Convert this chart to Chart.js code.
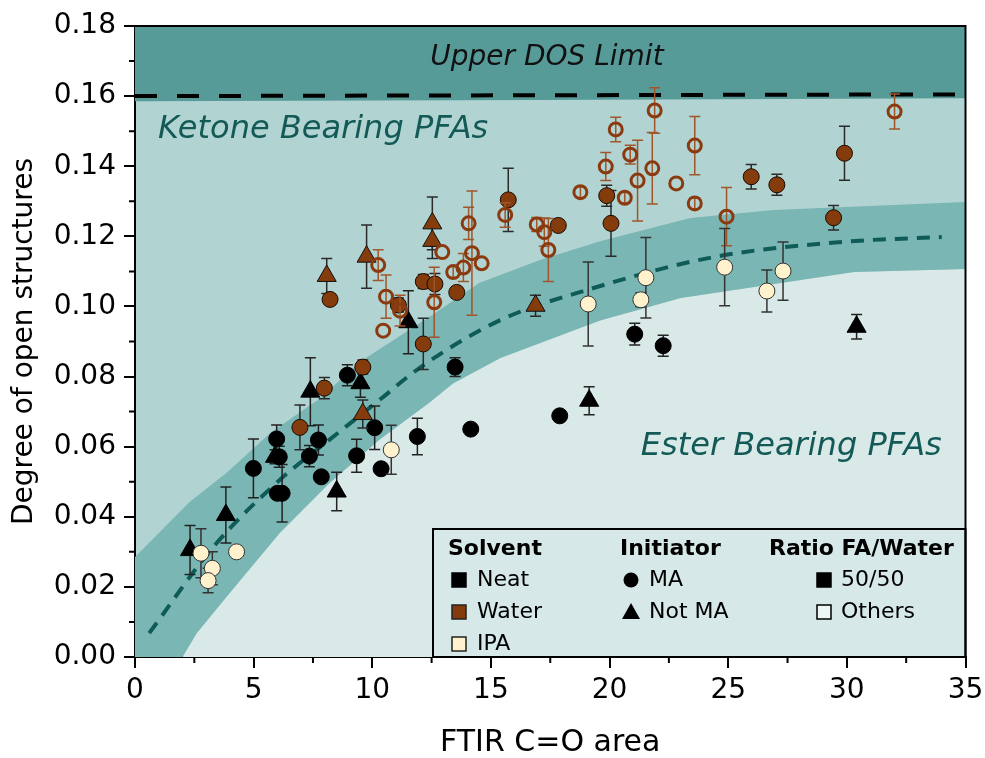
<!DOCTYPE html>
<html lang="en">
<head>
  <meta charset="UTF-8">
  <title>Degree of open structures vs FTIR C=O area</title>
  <script src="https://cdn.jsdelivr.net/npm/chart.js"></script>
  <style>
    body { margin: 0; background: #fff; }
    #wrap { width: 985px; height: 758px; }
  </style>
</head>
<body>
  <div id="wrap"><canvas id="chart" width="985" height="758"></canvas></div>

  <script>
    // axis ticks
    const xTicks = [0, 5, 10, 15, 20, 25, 30, 35];
    const xMinor = [2.5, 7.5, 12.5, 17.5, 22.5, 27.5, 32.5];
    const yTicks = [0, 0.02, 0.04, 0.06, 0.08, 0.10, 0.12, 0.14, 0.16, 0.18];
    const yMinor = [0.01, 0.03, 0.05, 0.07, 0.09, 0.11, 0.13, 0.15, 0.17];

    // shaded regions and curves
    const bandUpperX = [0, 2.3, 3.9, 5.7, 7.7, 9.6, 12.4, 14.5, 17.1, 19.6, 23.4, 26.9, 35];
    const bandUpperY = [0.0285, 0.0442, 0.0528, 0.0639, 0.0733, 0.0847, 0.0970, 0.1067, 0.1133, 0.1186, 0.1252, 0.1275, 0.1298];
    const bandLowerX = [0, 2.0, 2.6, 4.0, 6.1, 8.2, 10.3, 12.4, 13.4, 15.4, 19.6, 23.0, 30.3, 35];
    const bandLowerY = [0, 0, 0.0068, 0.0183, 0.0354, 0.0496, 0.0620, 0.0725, 0.0780, 0.0853, 0.0960, 0.1024, 0.1098, 0.1107];
    const fitX = [0.6, 3.3, 6.1, 8.2, 10.3, 12.0, 15.4, 19.2, 24.4, 30.0, 34.0];
    const fitY = [0.0068, 0.0314, 0.0505, 0.0620, 0.0733, 0.0825, 0.0961, 0.1050, 0.1141, 0.1185, 0.1198];
    const dosEdgeX = [0, 17, 35];
    const dosEdgeY = [0.1585, 0.1589, 0.1594];
    const limitX = [0, 35];
    const limitY = [0.1600, 0.1605];

    // Neat, MA
    const neatMaX = [4.99, 5.97, 6.08, 6.0, 6.2, 7.35, 7.73, 7.85, 8.95, 9.34, 10.1, 10.37, 11.9, 13.49, 14.15, 17.9, 21.06, 22.26];
    const neatMaY = [0.0538, 0.0622, 0.0571, 0.0467, 0.0467, 0.0573, 0.0619, 0.0514, 0.0804, 0.0574, 0.0654, 0.0537, 0.0629, 0.0827, 0.0650, 0.0688, 0.0921, 0.0888];
    const neatMaErr = [0.0084, 0.004, 0.003, 0, 0.0082, 0.003, 0.0043, 0, 0.003, 0.0047, 0.0062, 0, 0.0052, 0.0027, 0, 0, 0.0031, 0.003];
    // Neat, not MA
    const neatNotX = [2.32, 3.83, 5.9, 7.39, 8.5, 9.5, 11.52, 19.14, 30.41];
    const neatNotY = [0.0305, 0.0405, 0.0571, 0.0757, 0.0472, 0.0781, 0.0955, 0.0731, 0.0942];
    const neatNotErr = [0.007, 0.008, 0.002, 0.0097, 0.0055, 0.004, 0.009, 0.004, 0.0035];
    // Water, MA, 50/50
    const waterMaX = [7.98, 6.95, 9.6, 8.22, 12.15, 12.64, 11.1, 13.56, 12.15, 15.73, 17.84, 19.88, 20.06, 25.97, 27.05, 29.9, 29.44];
    const waterMaY = [0.0767, 0.0655, 0.0827, 0.1020, 0.1071, 0.1064, 0.1004, 0.1040, 0.0893, 0.1304, 0.1231, 0.1316, 0.1237, 0.1370, 0.1347, 0.1437, 0.1253];
    const waterMaErr = [0.003, 0.0064, 0.002, 0.0015, 0.002, 0.003, 0.002, 0.0015, 0.0073, 0.009, 0.001, 0.003, 0.0094, 0.0035, 0.003, 0.0077, 0.0035];
    // Water, not MA
    const waterNotX = [8.08, 9.76, 12.53, 12.53, 9.6, 16.88];
    const waterNotY = [0.1087, 0.1142, 0.1237, 0.1187, 0.0693, 0.1002];
    const waterNotErr = [0.005, 0.009, 0.0075, 0.005, 0.004, 0.003];
    // Water, other ratios
    const waterOthX = [10.25, 10.58, 10.46, 11.17, 12.95, 12.61, 13.41, 13.84, 14.06, 14.2, 14.61, 15.6, 16.93, 17.25, 17.42, 18.77, 19.84, 20.26, 20.87, 20.64, 21.18, 21.8, 21.9, 22.81, 23.59, 23.59, 24.93, 32.01];
    const waterOthY = [0.1118, 0.1028, 0.0931, 0.0988, 0.1155, 0.1012, 0.1098, 0.1111, 0.1237, 0.1152, 0.1123, 0.1261, 0.1234, 0.1212, 0.1161, 0.1326, 0.1399, 0.1505, 0.1433, 0.1310, 0.1359, 0.1394, 0.1559, 0.1351, 0.1459, 0.1294, 0.1256, 0.1556];
    const waterOthErr = [0.0044, 0.0062, 0, 0.0044, 0, 0.01, 0.0015, 0.004, 0.0046, 0.0177, 0, 0.0035, 0.002, 0.004, 0.009, 0.0015, 0.004, 0.0035, 0.0027, 0.0015, 0.0115, 0.0102, 0.0065, 0, 0.0083, 0.0015, 0.0083, 0.005];
    // IPA
    const ipaX = [2.78, 3.26, 3.08, 4.28, 10.8, 19.1, 21.32, 21.53, 24.85, 26.63, 27.31];
    const ipaY = [0.0296, 0.0253, 0.0218, 0.0300, 0.0591, 0.1007, 0.1019, 0.1082, 0.1112, 0.1044, 0.1101];
    const ipaErr = [0.007, 0.0047, 0.0035, 0, 0.007, 0.012, 0.002, 0.0115, 0.011, 0.006, 0.0083];

    // legend entries
    const solventLabels = ['Neat', 'Water', 'IPA'];
    const solventColors = ['#000000', '#843c0c', '#fff2cc'];
    const initiatorLabels = ['MA', 'Not MA'];
    const ratioLabels = ['50/50', 'Others'];

    const BROWN = '#843c0c';
    const CREAM = '#fff2cc';
    const FONT = "'DejaVu Sans', sans-serif";
    Chart.defaults.font.family = FONT;
    Chart.defaults.color = '#000';

    function pts(xs, ys) {
      return xs.map((x, i) => ({ x: x, y: ys[i] }));
    }

    function lineSet(xs, ys, extra) {
      return Object.assign({
        data: pts(xs, ys),
        showLine: true,
        pointRadius: 0,
        borderWidth: 0,
        tension: 0,
        order: 10
      }, extra);
    }

    function markerSet(xs, ys, err, style) {
      return Object.assign({
        data: pts(xs, ys),
        err: err,
        showLine: false,
        order: 0
      }, style);
    }

    // error bars are drawn just before the markers of their own dataset
    const errorBars = {
      id: 'errorBars',
      beforeDatasetDraw(chart, args) {
        const ds = chart.data.datasets[args.index];
        if (!ds.err) return;
        const sx = chart.scales.x, sy = chart.scales.y, ctx = chart.ctx;
        ctx.save();
        ctx.strokeStyle = ds.errColor;
        ctx.lineWidth = 1.5;
        ds.data.forEach((p, i) => {
          const e = ds.err[i];
          if (!e) return;
          const px = sx.getPixelForValue(p.x);
          const top = sy.getPixelForValue(p.y + e);
          const bot = sy.getPixelForValue(p.y - e);
          ctx.beginPath();
          ctx.moveTo(px, top); ctx.lineTo(px, bot);
          ctx.moveTo(px - 5.5, top); ctx.lineTo(px + 5.5, top);
          ctx.moveTo(px - 5.5, bot); ctx.lineTo(px + 5.5, bot);
          ctx.stroke();
        });
        ctx.restore();
      }
    };

    function square(ctx, x, y, fill, stroke) {
      ctx.fillStyle = fill;
      ctx.fillRect(x, y - 7, 14, 14);
      ctx.strokeStyle = stroke;
      ctx.lineWidth = 1.5;
      ctx.strokeRect(x, y - 7, 14, 14);
    }

    const decor = {
      id: 'decor',
      beforeDraw(chart) {
        const a = chart.chartArea, ctx = chart.ctx;
        ctx.save();
        ctx.fillStyle = '#b1d4d3';
        ctx.fillRect(a.left, a.top, a.right - a.left, a.bottom - a.top);
        ctx.restore();
      },
      afterDatasetsDraw(chart) {
        const ctx = chart.ctx, a = chart.chartArea;
        const sx = chart.scales.x, sy = chart.scales.y;
        ctx.save();
        ctx.textBaseline = 'middle';
        ctx.font = 'italic 28px ' + FONT;
        ctx.fillStyle = '#111';
        ctx.textAlign = 'center';
        ctx.fillText('Upper DOS Limit', sx.getPixelForValue(17.36), sy.getPixelForValue(0.1709));
        ctx.font = 'italic 32px ' + FONT;
        ctx.fillStyle = '#135a57';
        ctx.textAlign = 'left';
        ctx.fillText('Ketone Bearing PFAs', sx.getPixelForValue(0.97), sy.getPixelForValue(0.1504));
        ctx.textAlign = 'right';
        ctx.fillText('Ester Bearing PFAs', sx.getPixelForValue(34.0), sy.getPixelForValue(0.0599));

        // legend box
        const L = a.left + 298, T = a.top + 503, R = a.right, B = a.bottom;
        ctx.fillStyle = '#d6e8e7';
        ctx.fillRect(L, T, R - L, B - T);
        ctx.strokeStyle = '#000';
        ctx.lineWidth = 2;
        ctx.strokeRect(L, T, R - L, B - T);

        ctx.textAlign = 'left';
        ctx.fillStyle = '#000';
        ctx.font = 'bold 22px ' + FONT;
        ctx.fillText('Solvent', L + 15, T + 20);
        ctx.fillText('Initiator', L + 187, T + 20);
        ctx.fillText('Ratio FA/Water', L + 336, T + 20);

        ctx.font = '22px ' + FONT;
        const rows = [T + 51, T + 83, T + 115];
        solventLabels.forEach((s, i) => {
          square(ctx, L + 19, rows[i], solventColors[i], i === 0 ? '#000' : '#222');
          ctx.fillStyle = '#000';
          ctx.fillText(s, L + 44, rows[i]);
        });
        initiatorLabels.forEach((s, i) => {
          const cx = L + 198, cy = rows[i];
          ctx.fillStyle = '#000';
          ctx.beginPath();
          if (i === 0) {
            ctx.arc(cx, cy, 7.5, 0, Math.PI * 2);
          } else {
            ctx.moveTo(cx, cy - 9);
            ctx.lineTo(cx + 9, cy + 7);
            ctx.lineTo(cx - 9, cy + 7);
            ctx.closePath();
          }
          ctx.fill();
          ctx.fillText(s, L + 216, cy);
        });
        ratioLabels.forEach((s, i) => {
          square(ctx, L + 384, rows[i], i === 0 ? '#000' : '#eef5f5', '#000');
          ctx.fillStyle = '#000';
          ctx.fillText(s, L + 408, rows[i]);
        });
        ctx.restore();
      },
      afterDraw(chart) {
        const ctx = chart.ctx, a = chart.chartArea;
        const sx = chart.scales.x, sy = chart.scales.y;
        ctx.save();
        ctx.strokeStyle = '#000';
        ctx.lineWidth = 2;
        ctx.beginPath();
        ctx.moveTo(a.left, a.top); ctx.lineTo(a.right, a.top); ctx.lineTo(a.right, a.bottom);
        xMinor.forEach(v => {
          const px = sx.getPixelForValue(v);
          ctx.moveTo(px, a.bottom); ctx.lineTo(px, a.bottom + 6);
        });
        yMinor.forEach(v => {
          const py = sy.getPixelForValue(v);
          ctx.moveTo(a.left - 6, py); ctx.lineTo(a.left, py);
        });
        ctx.stroke();
        ctx.restore();
      }
    };

    new Chart(document.getElementById('chart'), {
      type: 'scatter',
      data: {
        datasets: [
          lineSet(bandUpperX, bandUpperY, { fill: '+1', backgroundColor: '#7ab6b4', borderColor: 'rgba(0,0,0,0)' }),
          lineSet(bandLowerX, bandLowerY, { fill: 'start', backgroundColor: '#d9e9e8', borderColor: 'rgba(0,0,0,0)' }),
          lineSet(dosEdgeX, dosEdgeY, { fill: 'end', backgroundColor: '#579b99', borderColor: 'rgba(0,0,0,0)' }),
          lineSet(fitX, fitY, { borderColor: '#0f5b58', borderWidth: 4, borderDash: [13, 9], cubicInterpolationMode: 'monotone', order: 5 }),
          lineSet(limitX, limitY, { borderColor: '#000', borderWidth: 4, borderDash: [22, 20], order: 5 }),
          markerSet(ipaX, ipaY, ipaErr, { pointStyle: 'circle', pointRadius: 8, pointBorderWidth: 1, pointBackgroundColor: CREAM, pointBorderColor: '#333', errColor: '#333' }),
          markerSet(waterOthX, waterOthY, waterOthErr, { pointStyle: 'circle', pointRadius: 6.5, pointBorderWidth: 3, pointBackgroundColor: 'rgba(0,0,0,0)', pointBorderColor: '#8b3a0f', errColor: '#a0552a' }),
          markerSet(waterMaX, waterMaY, waterMaErr, { pointStyle: 'circle', pointRadius: 8, pointBorderWidth: 1, pointBackgroundColor: BROWN, pointBorderColor: '#1a0a00', errColor: '#2a2a2a' }),
          markerSet(waterNotX, waterNotY, waterNotErr, { pointStyle: 'triangle', pointRadius: 11, pointBorderWidth: 1, pointBackgroundColor: BROWN, pointBorderColor: '#111', errColor: '#2a2a2a' }),
          markerSet(neatMaX, neatMaY, neatMaErr, { pointStyle: 'circle', pointRadius: 8, pointBorderWidth: 1, pointBackgroundColor: '#000', pointBorderColor: '#000', errColor: '#222' }),
          markerSet(neatNotX, neatNotY, neatNotErr, { pointStyle: 'triangle', pointRadius: 11, pointBorderWidth: 1, pointBackgroundColor: '#000', pointBorderColor: '#000', errColor: '#222' })
        ]
      },
      options: {
        responsive: false,
        animation: false,
        devicePixelRatio: 1,
        layout: { padding: { top: 26, right: 19.5, left: 0, bottom: 0 } },
        plugins: {
          legend: { display: false },
          tooltip: { enabled: false }
        },
        scales: {
          x: {
            type: 'linear',
            min: 0,
            max: 35,
            afterFit(scale) { scale.height = 101; scale.paddingLeft = 0; scale.paddingRight = 0; },
            afterBuildTicks(scale) { scale.ticks = xTicks.map(v => ({ value: v })); },
            ticks: { font: { size: 28 }, color: '#000', padding: 6, maxRotation: 0, callback: v => String(v) },
            grid: { drawOnChartArea: false, tickLength: 11, color: '#000', lineWidth: 2 },
            border: { color: '#000', width: 2 },
            title: { display: true, text: 'FTIR C=O area', color: '#000', font: { size: 30, lineHeight: 1 }, padding: { top: 0, bottom: 0 } }
          },
          y: {
            min: 0,
            max: 0.18,
            afterFit(scale) { scale.width = 135; scale.paddingTop = 0; scale.paddingBottom = 0; },
            afterBuildTicks(scale) { scale.ticks = yTicks.map(v => ({ value: v })); },
            ticks: { font: { size: 28 }, color: '#000', padding: 8, callback: v => v.toFixed(2) },
            grid: { drawOnChartArea: false, tickLength: 11, color: '#000', lineWidth: 2 },
            border: { color: '#000', width: 2 },
            title: { display: true, text: 'Degree of open structures', color: '#000', font: { size: 28, lineHeight: 1 }, padding: { top: 11, bottom: 0 } }
          }
        }
      },
      plugins: [errorBars, decor]
    });
  </script>
</body>
</html>
